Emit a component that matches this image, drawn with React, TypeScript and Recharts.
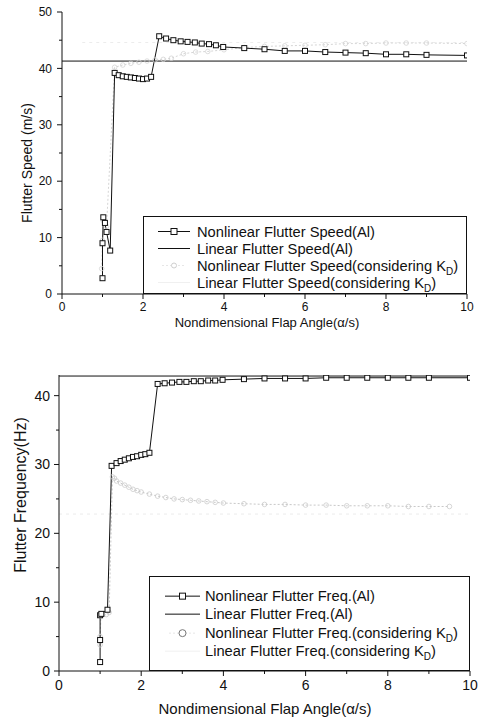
import React from "react";
import { LineChart, Line, XAxis, YAxis, Legend } from "recharts";

const FONT = "'Liberation Sans', Arial, Helvetica, sans-serif";
const INK = "#111";

// ---- shared x ticks (odd ones are minor)
const xTicks = [0, 1, 2, 3, 4, 5, 6, 7, 8, 9, 10];

// ---- top panel: flutter speed (m/s)
const speedTicks = [0, 5, 10, 15, 20, 25, 30, 35, 40, 45, 50];

const speedAlX = [1.0, 1.0, 1.02, 1.06, 1.1, 1.19, 1.3, 1.4, 1.5, 1.6, 1.7, 1.8, 1.9, 2.0, 2.1, 2.2, 2.4, 2.57, 2.75, 2.93, 3.1, 3.28, 3.45, 3.63, 3.8, 3.98, 4.5, 5.0, 5.5, 6.0, 6.5, 7.0, 7.5, 8.0, 8.5, 9.0, 10.0];
const speedAlY = [2.8, 9.0, 13.6, 12.6, 11.0, 7.7, 39.2, 38.8, 38.6, 38.5, 38.4, 38.3, 38.2, 38.1, 38.2, 38.5, 45.7, 45.3, 45.0, 44.8, 44.7, 44.6, 44.4, 44.3, 44.1, 43.8, 43.6, 43.4, 43.1, 43.1, 42.9, 42.8, 42.7, 42.5, 42.5, 42.4, 42.3];

const speedLinAlX = [0, 10];
const speedLinAlY = [41.3, 41.3];

const speedKdX = [0.98, 1.0, 1.02, 1.1, 1.3, 1.5, 1.7, 1.9, 2.1, 2.3, 2.5, 2.7, 3.0, 3.3, 3.6, 4.0, 4.5, 5.0, 5.5, 6.0, 6.5, 7.0, 7.5, 8.0, 8.5, 9.0, 10.0];
const speedKdY = [4.5, 9.5, 13.0, 12.0, 40.2, 40.6, 40.9, 41.1, 41.3, 41.5, 41.6, 41.8, 42.6, 42.9, 43.0, 43.3, 43.7, 43.9, 44.0, 44.1, 44.2, 44.4, 44.4, 44.5, 44.5, 44.5, 44.4];

const speedLinKdX = [0.5, 10];
const speedLinKdY = [44.6, 44.6];

// ---- bottom panel: flutter frequency (Hz)
const freqTicks = [0, 5, 10, 15, 20, 25, 30, 35, 40];

const freqAlX = [1.0, 1.0, 1.0, 1.03, 1.18, 1.28, 1.4, 1.5, 1.6, 1.7, 1.8, 1.9, 2.0, 2.1, 2.2, 2.4, 2.57, 2.75, 2.93, 3.1, 3.28, 3.45, 3.63, 3.8, 3.98, 4.5, 5.0, 5.5, 6.0, 6.5, 7.0, 7.5, 8.0, 8.5, 9.0, 10.0];
const freqAlY = [1.3, 4.5, 8.1, 8.3, 8.9, 29.8, 30.2, 30.5, 30.7, 30.9, 31.1, 31.2, 31.4, 31.5, 31.7, 41.7, 41.8, 41.9, 42.0, 42.0, 42.1, 42.1, 42.2, 42.2, 42.3, 42.4, 42.5, 42.5, 42.5, 42.6, 42.6, 42.6, 42.6, 42.6, 42.6, 42.6];

const freqLinAlX = [0, 10];
const freqLinAlY = [42.85, 42.85];

const freqKdX = [1.0, 1.0, 1.02, 1.15, 1.22, 1.3, 1.35, 1.4, 1.5, 1.6, 1.7, 1.8, 1.9, 2.0, 2.2, 2.4, 2.6, 2.8, 3.0, 3.2, 3.4, 3.6, 3.8, 4.0, 4.5, 5.0, 5.5, 6.0, 6.5, 7.0, 7.5, 8.0, 8.5, 9.0, 9.5];
const freqKdY = [3.8, 5.0, 8.0, 8.2, 8.5, 28.2, 28.0, 27.6, 27.3, 27.0, 26.7, 26.4, 26.2, 26.0, 25.7, 25.4, 25.2, 25.0, 24.9, 24.8, 24.7, 24.6, 24.5, 24.4, 24.3, 24.2, 24.2, 24.1, 24.1, 24.0, 24.0, 24.0, 23.9, 23.9, 23.9];

const freqLinKdX = [0, 10];
const freqLinKdY = [22.8, 22.8];

const zip = (xs: number[], ys: number[]) => xs.map((x, i) => ({ x, y: ys[i] }));

const TS = 5; // tick size used for label placement
const TM = 3; // tick margin

// tick with long marks on labelled values, short marks elsewhere
const makeXTick = (fontSize: number, majorEvery: number) => (p: any) => {
  const v = p.payload.value;
  const major = v % majorEvery === 0;
  const y0 = p.y - TS - TM;
  return (
    <g>
      <line x1={p.x} x2={p.x} y1={y0} y2={y0 + (major ? 5 : 3)} stroke={INK} />
      {major && (
        <text x={p.x} y={p.y} dy="0.75em" textAnchor="middle"
          style={{ fontFamily: FONT, fontSize, fill: INK }}>{v}</text>
      )}
    </g>
  );
};

const makeYTick = (fontSize: number, majorEvery: number, gap: number) => (p: any) => {
  const v = p.payload.value;
  const major = v % majorEvery === 0;
  const x0 = p.x + TS + TM;
  return (
    <g>
      <line x1={x0} x2={x0 - (major ? 5 : 3)} y1={p.y} y2={p.y} stroke={INK} />
      {major && (
        <text x={x0 - gap} y={p.y} dy="0.35em" textAnchor="end"
          style={{ fontFamily: FONT, fontSize, fill: INK }}>{v}</text>
      )}
    </g>
  );
};

const SquareDot = (p: any) => {
  if (p.cx == null || p.cy == null) return <g key={p.index} />;
  return (
    <rect key={p.index} x={p.cx - 2.5} y={p.cy - 2.5} width={5} height={5}
      fill="#fff" stroke={INK} strokeWidth={1} />
  );
};

const makeCircleDot = (color: string) => (p: any) => {
  if (p.cx == null || p.cy == null) return <g key={p.index} />;
  return <circle key={p.index} cx={p.cx} cy={p.cy} r={2.3} fill="none" stroke={color} strokeWidth={0.8} />;
};

const Title = (p: any) => (
  <text x={p.tx} y={p.ty} textAnchor="middle" dominantBaseline="central"
    transform={p.rotate ? `rotate(-90 ${p.tx} ${p.ty})` : undefined}
    style={{ fontFamily: FONT, fontSize: p.size, fill: INK }}>
    {p.text}
  </text>
);

const Sub = ({ children }: { children: React.ReactNode }) => (
  <span style={{ fontSize: "0.68em", position: "relative", top: 4 }}>{children}</span>
);

function LegendBox(props: {
  width: number; height: number; padTop: number; padLeft: number; rowH: number;
  symW: number; gap: number; circleColor: string; circleR: number; labels: React.ReactNode[];
}) {
  const { width, height, padTop, padLeft, rowH, symW, gap, circleColor, circleR, labels } = props;
  const mid = symW / 2;
  const syms = [
    <svg width={symW} height={rowH}>
      <line x1={0} x2={symW} y1={rowH / 2} y2={rowH / 2} stroke={INK} />
      <rect x={mid - 3} y={rowH / 2 - 3} width={6} height={6} fill="#fff" stroke={INK} />
    </svg>,
    <svg width={symW} height={rowH}>
      <line x1={0} x2={symW} y1={rowH / 2} y2={rowH / 2} stroke={INK} />
    </svg>,
    <svg width={symW} height={rowH}>
      <line x1={4} x2={symW - 4} y1={rowH / 2} y2={rowH / 2} stroke="#e6e6e6" strokeDasharray="2 2" />
      <circle cx={mid} cy={rowH / 2} r={circleR} fill="#fff" stroke={circleColor} />
    </svg>,
    <svg width={symW} height={rowH}>
      <line x1={0} x2={symW} y1={rowH / 2} y2={rowH / 2} stroke="#f0f0f0" />
    </svg>,
  ];
  return (
    <div style={{
      width, height, boxSizing: "border-box", border: `1px solid ${INK}`, background: "#fff",
      paddingTop: padTop, paddingLeft: padLeft, fontFamily: FONT, fontSize: 14.7, color: INK,
    }}>
      {labels.map((l, i) => (
        <div key={i} style={{ display: "flex", alignItems: "center", height: rowH, whiteSpace: "nowrap" }}>
          <span style={{ display: "inline-block", width: symW, height: rowH, marginRight: gap }}>{syms[i]}</span>
          <span>{l}</span>
        </div>
      ))}
    </div>
  );
}

function SpeedChart() {
  return (
    <LineChart width={479} height={340} margin={{ top: 12, right: 12, bottom: 0, left: 2 }}>
      <XAxis xAxisId={0} type="number" dataKey="x" domain={[0, 10]} ticks={xTicks} interval={0} height={46}
        tick={makeXTick(12, 2)} tickSize={TS} tickMargin={TM} axisLine={{ stroke: INK }} tickLine={false}
        allowDataOverflow
        label={<Title tx={267} ty={322} size={13} text="Nondimensional Flap Angle(α/s)" />} />
      <XAxis xAxisId="frame" orientation="top" type="number" domain={[0, 10]} height={0}
        tick={false} tickLine={false} axisLine={{ stroke: INK }} allowDataOverflow />
      <YAxis yAxisId={0} type="number" domain={[0, 50]} ticks={speedTicks} interval={0} width={60}
        tick={makeYTick(12, 10, 10)} tickSize={TS} tickMargin={TM} axisLine={{ stroke: INK }} tickLine={false}
        allowDataOverflow
        label={<Title tx={27} ty={163} size={14} rotate text="Flutter Speed (m/s)" />} />
      <YAxis yAxisId="frame" orientation="right" type="number" domain={[0, 50]} width={0}
        tick={false} tickLine={false} axisLine={{ stroke: INK }} allowDataOverflow />

      <Line data={zip(speedLinKdX, speedLinKdY)} dataKey="y" stroke="#ececec" strokeDasharray="3 4"
        strokeWidth={1} dot={false} isAnimationActive={false} name="Linear Flutter Speed(considering KD)" />
      <Line data={zip(speedKdX, speedKdY)} dataKey="y" stroke="#d6d6d6" strokeDasharray="2 2"
        strokeWidth={1} dot={makeCircleDot("#d4d4d4")} isAnimationActive={false}
        name="Nonlinear Flutter Speed(considering KD)" />
      <Line data={zip(speedLinAlX, speedLinAlY)} dataKey="y" stroke={INK} strokeWidth={1}
        dot={false} isAnimationActive={false} name="Linear Flutter Speed(Al)" />
      <Line data={zip(speedAlX, speedAlY)} dataKey="y" stroke={INK} strokeWidth={1}
        dot={SquareDot} isAnimationActive={false} name="Nonlinear Flutter Speed(Al)" />

      <Legend layout="horizontal" verticalAlign="middle" align="center"
        wrapperStyle={{ left: 143, top: 216, width: 324, height: 78 }}
        content={() => (
          <LegendBox width={324} height={78} padTop={6} padLeft={14} rowH={17} symW={32} gap={7}
            circleColor="#cfcfcf" circleR={2.5}
            labels={[
              "Nonlinear Flutter Speed(Al)",
              "Linear Flutter Speed(Al)",
              <>Nonlinear Flutter Speed(considering K<Sub>D</Sub>)</>,
              <>Linear Flutter Speed(considering K<Sub>D</Sub>)</>,
            ]} />
        )} />
    </LineChart>
  );
}

function FreqChart() {
  return (
    <LineChart width={479} height={375} margin={{ top: 25, right: 9, bottom: 0, left: 1 }}>
      <XAxis xAxisId={0} type="number" dataKey="x" domain={[0, 10]} ticks={xTicks} interval={0} height={54}
        tick={makeXTick(14, 2)} tickSize={TS} tickMargin={TM} axisLine={{ stroke: INK }} tickLine={false}
        allowDataOverflow
        label={<Title tx={265} ty={358} size={15} text="Nondimensional Flap Angle(α/s)" />} />
      <XAxis xAxisId="frame" orientation="top" type="number" domain={[0, 10]} height={0}
        tick={false} tickLine={false} axisLine={{ stroke: INK }} allowDataOverflow />
      <YAxis yAxisId={0} type="number" domain={[0, 43]} ticks={freqTicks} interval={0} width={58}
        tick={makeYTick(14, 10, 9)} tickSize={TS} tickMargin={TM} axisLine={{ stroke: INK }} tickLine={false}
        allowDataOverflow
        label={<Title tx={20} ty={145} size={16} rotate text="Flutter Frequency(Hz)" />} />
      <YAxis yAxisId="frame" orientation="right" type="number" domain={[0, 43]} width={0}
        tick={false} tickLine={false} axisLine={{ stroke: INK }} allowDataOverflow />

      <Line data={zip(freqLinKdX, freqLinKdY)} dataKey="y" stroke="#ebebeb" strokeDasharray="3 4"
        strokeWidth={1} dot={false} isAnimationActive={false} name="Linear Flutter Freq.(considering KD)" />
      <Line data={zip(freqKdX, freqKdY)} dataKey="y" stroke="#c8c8c8" strokeDasharray="2 2"
        strokeWidth={1} dot={makeCircleDot("#cccccc")} isAnimationActive={false}
        name="Nonlinear Flutter Freq.(considering KD)" />
      <Line data={zip(freqLinAlX, freqLinAlY)} dataKey="y" stroke={INK} strokeWidth={1}
        dot={false} isAnimationActive={false} name="Linear Flutter Freq.(Al)" />
      <Line data={zip(freqAlX, freqAlY)} dataKey="y" stroke={INK} strokeWidth={1}
        dot={SquareDot} isAnimationActive={false} name="Nonlinear Flutter Freq.(Al)" />

      <Legend layout="horizontal" verticalAlign="middle" align="center"
        wrapperStyle={{ left: 149, top: 226, width: 321, height: 95 }}
        content={() => (
          <LegendBox width={321} height={95} padTop={10} padLeft={15} rowH={18.3} symW={35} gap={5}
            circleColor="#777" circleR={3.5}
            labels={[
              "Nonlinear Flutter Freq.(Al)",
              "Linear Flutter Freq.(Al)",
              <>Nonlinear Flutter Freq.(considering K<Sub>D</Sub>)</>,
              <>Linear Flutter Freq.(considering K<Sub>D</Sub>)</>,
            ]} />
        )} />
    </LineChart>
  );
}

export default function App() {
  return (
    <div style={{ position: "absolute", left: 0, top: 0, width: 479, height: 725, background: "#fff" }}>
      <div style={{ position: "absolute", left: 0, top: 0 }}>
        <SpeedChart />
      </div>
      <div style={{ position: "absolute", left: 0, top: 350 }}>
        <FreqChart />
      </div>
    </div>
  );
}
